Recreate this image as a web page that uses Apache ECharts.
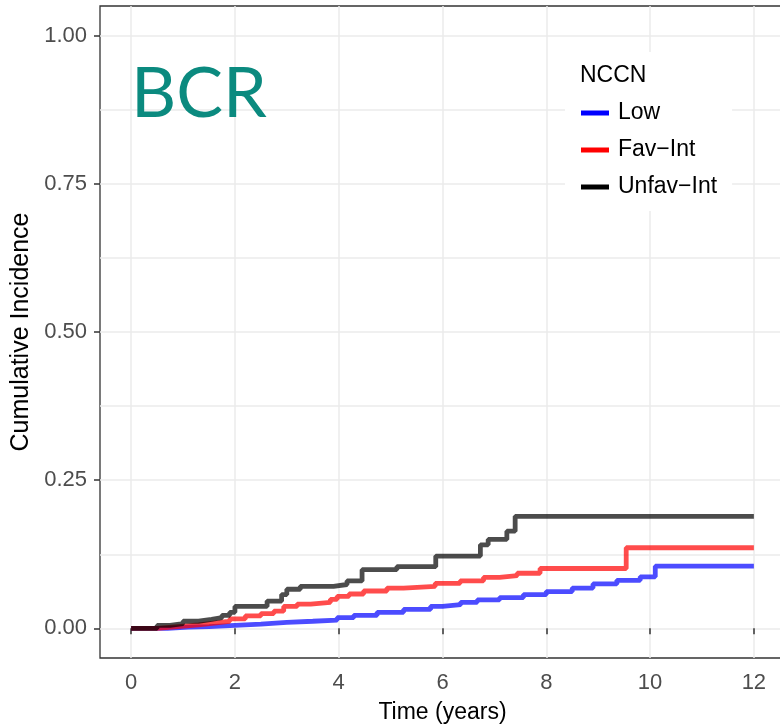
<!DOCTYPE html>
<html>
<head>
<meta charset="utf-8">
<script src="https://cdn.jsdelivr.net/npm/echarts@6/dist/echarts.min.js"></script>
<style>
  html, body { margin: 0; padding: 0; background: #fff; }
  #main { width: 780px; height: 726px; }
</style>
</head>
<body>
<div id="main"></div>
<script>
  // cumulative incidence step curves
  var lowTime = [0, 0.7, 1.1, 1.5, 2.0, 2.5, 3.0, 3.5, 3.97, 4.29, 4.74, 5.25, 5.77, 6.0, 6.35, 6.67, 7.1, 7.56, 8.0, 8.5, 8.9, 9.36, 9.81, 10.1, 12];
  var lowInc = [0, 0.002, 0.003, 0.005, 0.007, 0.010, 0.012, 0.014, 0.018, 0.022, 0.027, 0.032, 0.037, 0.040, 0.044, 0.048, 0.052, 0.057, 0.062, 0.068, 0.075, 0.081, 0.087, 0.105, 0.105];

  var favTime = [0, 0.5, 0.9, 1.3, 1.6, 1.9, 2.2, 2.5, 2.75, 2.94, 3.2, 3.46, 3.84, 3.97, 4.2, 4.48, 4.93, 5.25, 5.86, 6.34, 6.79, 7.1, 7.44, 7.88, 9.54, 12];
  var favInc = [0, 0.003, 0.006, 0.009, 0.012, 0.016, 0.021, 0.025, 0.029, 0.037, 0.041, 0.044, 0.049, 0.054, 0.058, 0.063, 0.068, 0.071, 0.076, 0.080, 0.086, 0.089, 0.093, 0.101, 0.136, 0.136];

  var unfavTime = [0, 0.5, 0.75, 1.0, 1.3, 1.55, 1.75, 1.9, 2.0, 2.62, 2.9, 3.0, 3.26, 3.9, 4.16, 4.45, 5.12, 5.87, 6.73, 6.88, 7.24, 7.40, 12];
  var unfavInc = [0, 0.005, 0.008, 0.012, 0.015, 0.018, 0.022, 0.027, 0.037, 0.046, 0.057, 0.066, 0.071, 0.074, 0.080, 0.099, 0.104, 0.122, 0.141, 0.150, 0.164, 0.189, 0.189];

  var xTicks = [0, 2, 4, 6, 8, 10, 12];
  var yTicks = [0, 0.25, 0.5, 0.75, 1];
  var yGrid = [0, 0.125, 0.25, 0.375, 0.5, 0.625, 0.75, 0.875, 1];

  function pairs(t, v) {
    return t.map(function (x, i) { return [x, v[i]]; });
  }

  var myChart = echarts.init(document.getElementById('main'));

  var labelFont = {
    color: '#4D4D4D',
    fontFamily: 'Liberation Sans, Arial, sans-serif',
    fontSize: 22
  };

  function stepSeries(name, color, t, v) {
    return {
      name: name,
      type: 'line',
      step: 'end',
      showSymbol: false,
      data: pairs(t, v),
      itemStyle: { color: color },
      lineStyle: { color: color, width: 4.8, opacity: 0.7 },
      emphasis: { disabled: true }
    };
  }

  var option = {
    animation: false,
    backgroundColor: '#fff',
    grid: {
      left: 100,
      top: 6,
      width: 685,
      height: 652,
      outerBoundsMode: 'none',
      show: true,
      borderColor: '#333',
      borderWidth: 1.3
    },
    legend: {
      orient: 'vertical',
      left: 565,
      top: 52,
      padding: [49, 15, 12, 16],
      backgroundColor: '#fff',
      icon: 'rect',
      itemWidth: 28,
      itemHeight: 5,
      itemGap: 13,
      textStyle: {
        color: '#000',
        fontFamily: 'Liberation Sans, Arial, sans-serif',
        fontSize: 23,
        lineHeight: 24,
        padding: [0, 0, 0, 4]
      },
      data: ['Low', 'Fav\u2212Int', 'Unfav\u2212Int']
    },
    graphic: [
      {
        type: 'text',
        left: 131,
        top: 59,
        z: 10,
        style: {
          text: 'BCR',
          fill: '#0B8A7F',
          font: '70px Lato, "Open Sans", sans-serif'
        }
      },
      {
        type: 'text',
        left: 580,
        top: 64,
        z: 10,
        style: {
          text: 'NCCN',
          fill: '#000',
          font: '23px "Liberation Sans", Arial, sans-serif'
        }
      }
    ],
    xAxis: {
      type: 'value',
      min: -0.6,
      max: 12.6,
      name: 'Time (years)',
      nameLocation: 'middle',
      nameGap: 43,
      nameTextStyle: {
        color: '#000',
        fontFamily: 'Liberation Sans, Arial, sans-serif',
        fontSize: 23
      },
      axisLine: { show: false },
      axisTick: {
        show: true,
        length: 6,
        customValues: xTicks,
        lineStyle: { color: '#333', width: 1.5 }
      },
      axisLabel: Object.assign({ margin: 14, customValues: xTicks }, labelFont),
      splitLine: { show: true, lineStyle: { color: '#EBEBEB', width: 1.5 } }
    },
    yAxis: [
      {
        type: 'value',
        position: 'left',
        min: -0.05,
        max: 1.05,
        axisLine: { show: false },
        axisTick: { show: false, customValues: yGrid },
        axisLabel: { show: false, customValues: yGrid },
        splitLine: { show: true, lineStyle: { color: '#EBEBEB', width: 1.5 } }
      },
      {
        type: 'value',
        position: 'left',
        min: -0.05,
        max: 1.05,
        name: 'Cumulative Incidence',
        nameLocation: 'middle',
        nameGap: 63,
        nameTextStyle: {
          color: '#000',
          fontFamily: 'Liberation Sans, Arial, sans-serif',
          fontSize: 25
        },
        axisLine: { show: false },
        axisTick: {
          show: true,
          length: 6,
          customValues: yTicks,
          lineStyle: { color: '#333', width: 1.5 }
        },
        axisLabel: Object.assign({
          margin: 13,
          customValues: yTicks,
          formatter: function (v) { return v.toFixed(2); }
        }, labelFont),
        splitLine: { show: false }
      }
    ],
    series: [
      stepSeries('Low', '#0000FF', lowTime, lowInc),
      stepSeries('Fav\u2212Int', '#FF0000', favTime, favInc),
      stepSeries('Unfav\u2212Int', '#000000', unfavTime, unfavInc)
    ]
  };

  myChart.setOption(option);
</script>
</body>
</html>
